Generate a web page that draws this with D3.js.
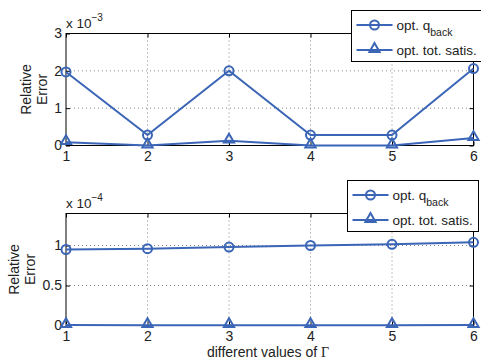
<!DOCTYPE html>
<html><head><meta charset="utf-8">
<script src="https://cdn.jsdelivr.net/npm/d3@7"></script>
<style>body{margin:0;background:#fff}svg{display:block}text{font-family:"Liberation Sans",Arial,Helvetica,sans-serif}</style>
</head><body>
<svg id="c" width="481" height="362"></svg>
<script>
const gammas = [1, 2, 3, 4, 5, 6];
const topQback = [1.97, 0.28, 2.0, 0.28, 0.28, 2.06];      // x 10^-3
const topTotSatis = [0.09, 0.0, 0.13, 0.0, 0.0, 0.2];      // x 10^-3
const botQback = [0.95, 0.96, 0.98, 1.0, 1.015, 1.04];     // x 10^-4
const botTotSatis = [0.005, 0.004, 0.004, 0.004, 0.004, 0.005]; // x 10^-4
const xTicks = [1, 2, 3, 4, 5, 6];
const topYTicks = [0, 1, 2, 3];
const botYTicks = [0, 0.5, 1];
const seriesNames = ["opt. q", "opt. tot. satis."];

const color = "#3b65b6";
const svg = d3.select("#c");
const x = d3.scaleLinear().domain([1, 6]).range([66, 473.5]);
const FS = 14;

function panel(yDomain, yRange, yTicks, yFmt, expo, qv, tv, legend, ylx) {
  const y = d3.scaleLinear().domain(yDomain).range(yRange);
  const g = svg.append("g");
  const [x0, x1] = x.range();
  const [yb, yt] = y.range();
  // grid
  g.selectAll(".gx").data(xTicks.slice(1, -1)).join("line")
    .attr("x1", d => x(d)).attr("x2", d => x(d)).attr("y1", yb).attr("y2", yt)
    .attr("stroke", "#888").attr("stroke-width", 1).attr("stroke-dasharray", "1,3");
  g.selectAll(".gy").data(yTicks.filter(d => d > yDomain[0] && d < yDomain[1])).join("line")
    .attr("y1", d => y(d)).attr("y2", d => y(d)).attr("x1", x0).attr("x2", x1)
    .attr("stroke", "#888").attr("stroke-width", 1).attr("stroke-dasharray", "1,3");
  // axes (inward ticks)
  const axB = d3.axisBottom(x).tickValues(xTicks).tickSize(-4).tickPadding(6).tickFormat(d3.format("d"));
  const axT = d3.axisTop(x).tickValues(xTicks).tickSize(-4).tickFormat("");
  const axL = d3.axisLeft(y).tickValues(yTicks).tickSize(-4).tickPadding(4).tickFormat(yFmt);
  const axR = d3.axisRight(y).tickValues(yTicks).tickSize(-4).tickFormat("");
  const style = sel => {
    sel.select(".domain").attr("stroke", "#000").attr("stroke-width", 1);
    sel.selectAll(".tick line").attr("stroke", "#000");
    sel.selectAll("text").attr("font-size", FS).attr("fill", "#222").attr("font-family", '"Liberation Sans",Arial,sans-serif');
  };
  g.append("g").attr("transform", `translate(0,${yb})`).call(axB).call(style);
  g.append("g").attr("transform", `translate(0,${yt})`).call(axT).call(style);
  g.append("g").attr("transform", `translate(${x0},0)`).call(axL).call(style);
  g.append("g").attr("transform", `translate(${x1},0)`).call(axR).call(style);
  g.selectAll(".domain").attr("d", null);
  g.append("rect").attr("x", x0).attr("y", yt).attr("width", x1 - x0).attr("height", yb - yt)
    .attr("fill", "none").attr("stroke", "#000").attr("stroke-width", 1);
  // exponent
  const ex = g.append("text").attr("x", 66).attr("y", yt - 6).attr("font-size", 13.5).attr("fill", "#222");
  ex.append("tspan").text("x 10");
  ex.append("tspan").attr("font-size", 10).attr("dy", -7).text("\u2212" + expo);
  // y label
  const yl = g.append("text").attr("transform", `translate(${ylx},${(yb + yt) / 2}) rotate(-90)`)
    .attr("text-anchor", "middle").attr("font-size", FS).attr("fill", "#222");
  yl.append("tspan").attr("x", 0).attr("dy", 4.5).text("Relative");
  yl.append("tspan").attr("x", 0).attr("dy", 16).text("Error");
  // data
  const line = d3.line().x((d, i) => x(gammas[i])).y(d => y(d));
  const data = g.append("g");
  [qv, tv].forEach((vals, k) => {
    data.append("path").attr("d", line(vals)).attr("fill", "none").attr("stroke", color).attr("stroke-width", 2);
    if (k === 0) {
      data.selectAll(null).data(vals).join("circle").attr("cx", (d, i) => x(gammas[i])).attr("cy", d => y(d))
        .attr("r", 4.5).attr("fill", "none").attr("stroke", color).attr("stroke-width", 2);
    } else {
      data.selectAll(null).data(vals).join("path")
        .attr("transform", (d, i) => `translate(${x(gammas[i])},${y(d) - 1})`)
        .attr("d", d3.symbol(d3.symbolTriangle, 45)).attr("fill", "none").attr("stroke", color).attr("stroke-width", 2);
    }
  });
  // legend
  const L = legend;
  const lg = g.append("g");
  lg.append("rect").attr("x", L.x).attr("y", L.y).attr("width", L.w).attr("height", L.h)
    .attr("fill", "#fff").attr("stroke", "#000").attr("stroke-width", 1);
  [0, 1].forEach(k => {
    const ry = L.y + 14.5 + k * 25;
    lg.append("line").attr("x1", L.x + 5).attr("x2", L.x + 41).attr("y1", ry).attr("y2", ry)
      .attr("stroke", color).attr("stroke-width", 2);
    if (k === 0) lg.append("circle").attr("cx", L.x + 23).attr("cy", ry).attr("r", 4.5).attr("fill", "none").attr("stroke", color).attr("stroke-width", 2);
    else lg.append("path").attr("transform", `translate(${L.x + 23},${ry - 1})`).attr("d", d3.symbol(d3.symbolTriangle, 45))
      .attr("fill", "none").attr("stroke", color).attr("stroke-width", 2);
    const t = lg.append("text").attr("x", L.x + 45).attr("y", ry + 4.5).attr("font-size", 13.5).attr("fill", "#222");
    t.append("tspan").text(seriesNames[k]);
    if (k === 0) t.append("tspan").attr("font-size", 10.5).attr("dy", 6).text("back");
  });
}

panel([0, 3], [145.5, 33.5], topYTicks, d3.format("d"), 3, topQback, topTotSatis, {x: 351.5, y: 10.5, w: 135, h: 51}, 26);
panel([0, 1.4], [325.5, 213.5], botYTicks, d => d === 0.5 ? "0.5" : d3.format("d")(d), 4, botQback, botTotSatis, {x: 347.5, y: 180.5, w: 131, h: 51}, 14);

const xl = svg.append("text").attr("x", 268).attr("y", 357).attr("text-anchor", "middle").attr("font-size", FS).attr("fill", "#222");
xl.append("tspan").text("different values of ");
xl.append("tspan").attr("font-family", '"Liberation Serif","Times New Roman",serif').text("\u0393");
</script>
</body></html>
